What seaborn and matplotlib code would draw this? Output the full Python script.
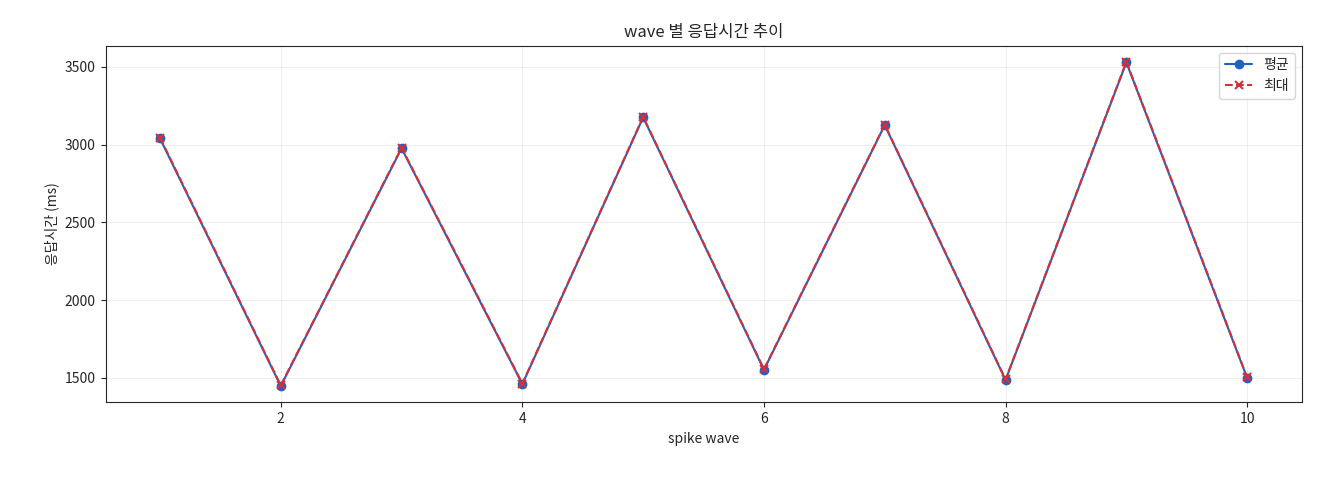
import matplotlib
matplotlib.use("Agg")
import matplotlib.pyplot as plt
import seaborn as sns
import pandas as pd

waves = [1, 2, 3, 4, 5, 6, 7, 8, 9, 10]
avg_ms = [3040, 1448, 2976, 1460, 3175, 1552, 3125, 1487, 3528, 1500]
max_ms = [3045, 1452, 2980, 1464, 3178, 1556, 3128, 1490, 3532, 1503]

sns.set_style("ticks")
plt.rcParams['font.family'] = ['Noto Sans CJK KR', 'DejaVu Sans']
plt.rcParams['axes.unicode_minus'] = False

df = pd.DataFrame({"wave": waves, "avg": avg_ms, "max": max_ms})
fig, ax = plt.subplots(figsize=(13.2, 4.8), dpi=100)
fig.subplots_adjust(left=0.08, right=0.986, top=0.905, bottom=0.162)
sns.lineplot(data=df, x="wave", y="avg", ax=ax, color="#1f62c0", marker="o",
             markersize=6, markeredgecolor="#1f62c0", markeredgewidth=1,
             label="평균", linewidth=1.5)
sns.lineplot(data=df, x="wave", y="max", ax=ax, color="#d62f3a", marker="x",
             markersize=6, markeredgecolor="#d62f3a", markeredgewidth=1.5,
             label="최대", linewidth=1.5)
ax.lines[1].set_linestyle("--")
ax.set_title("wave 별 응답시간 추이", fontsize=12)
ax.set_xlabel("spike wave", fontsize=10)
ax.set_ylabel("응답시간 (ms)", fontsize=10)
ax.grid(True, alpha=0.3)
ax.legend(loc="upper right", fontsize=10)
fig.savefig("out.png")
